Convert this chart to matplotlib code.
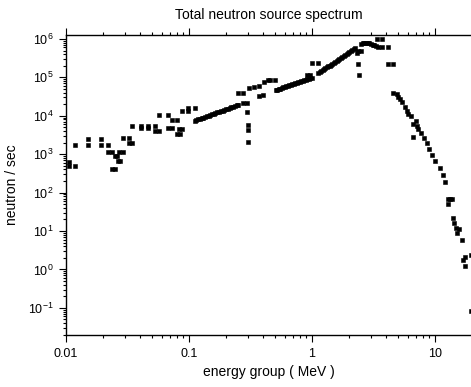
import numpy as np
import matplotlib
matplotlib.use("Agg")
import matplotlib.pyplot as plt
from matplotlib.ticker import LogLocator, FixedLocator, FixedFormatter, NullFormatter

plt.rcParams['font.family'] = ['Liberation Sans', 'DejaVu Sans']
plt.rcParams['mathtext.default'] = 'regular'
plt.rcParams['axes.unicode_minus'] = False

# --- values (energy in MeV, neutrons / sec) ---
# low-energy groups, scattered
e_low = [0.0106, 0.0106, 0.0118, 0.0118, 0.0151, 0.0151, 0.0194, 0.0194, 0.0219, 0.0219,
         0.0237, 0.0249, 0.0261, 0.0265, 0.0275, 0.0237, 0.0249, 0.0271, 0.0289, 0.0289,
         0.0324, 0.0324, 0.0344, 0.0344, 0.0409, 0.0409, 0.0464, 0.0464, 0.0526, 0.0526,
         0.0574, 0.0574, 0.0675, 0.0675, 0.0728, 0.0728, 0.0799, 0.0799, 0.0849, 0.0833,
         0.0877, 0.0872, 0.0982, 0.0982, 0.112]
v_low = [627, 494, 494, 1690, 2420, 1690, 2420, 1690, 1690, 1160,
         1160, 877, 877, 666, 666, 413, 420, 1160, 1160, 2570,
         2570, 1950, 1950, 5500, 5500, 4800, 5500, 4800, 5500, 3910,
         3910, 10600, 10600, 4800, 4800, 7870, 7870, 3350, 3350, 4520,
         4520, 13250, 16400, 13500, 15500]

# first dense run, 0.11 - 0.25 MeV
e_run1 = [0.111, 0.115, 0.119, 0.123, 0.127, 0.131, 0.135, 0.140, 0.145, 0.149,
          0.154, 0.159, 0.164, 0.170, 0.176, 0.182, 0.188, 0.194, 0.200, 0.207,
          0.214, 0.221, 0.229, 0.236, 0.244, 0.252]
v_run1 = [7410, 7700, 8000, 8320, 8630, 8970, 9330, 9680, 10070, 10470,
          10870, 11300, 11720, 12190, 12680, 13150, 13680, 14220, 14760, 15350,
          15920, 16560, 17220, 17870, 18580, 19320]

# scattered groups between the runs
e_mid = [0.249, 0.276, 0.276, 0.294, 0.294, 0.300, 0.300, 0.300, 0.310, 0.338,
         0.373, 0.373, 0.402, 0.409, 0.442, 0.455, 0.500, 0.916, 0.963, 1.006, 1.125]
v_mid = [40300, 40300, 22150, 22150, 12180, 5730, 4330, 2110, 52400, 54500,
         58000, 33000, 34500, 77800, 84500, 86100, 86100, 116100, 116100, 234000, 234000]

# second dense run, 0.5 - 1 MeV
e_run2 = [0.509, 0.524, 0.538, 0.554, 0.569, 0.585, 0.602, 0.619, 0.636, 0.654,
          0.673, 0.692, 0.712, 0.732, 0.752, 0.774, 0.795, 0.818, 0.841, 0.865,
          0.889, 0.914, 0.940, 0.967, 0.995]
v_run2 = [46600, 48000, 49600, 51200, 52800, 54500, 56200, 58000, 59800, 61700,
          63700, 65700, 67800, 70000, 72200, 74500, 76800, 79300, 81800, 84400,
          87100, 89800, 92700, 95700, 98900]

# third dense run, 1.1 - 2.2 MeV
e_run3 = [1.125, 1.155, 1.186, 1.218, 1.250, 1.284, 1.318, 1.353, 1.390, 1.427,
          1.465, 1.504, 1.544, 1.586, 1.628, 1.672, 1.717, 1.762, 1.809, 1.858,
          1.907, 1.958, 2.011, 2.064, 2.119, 2.176, 2.235]
v_run3 = [133400, 140300, 147600, 155400, 163700, 172600, 182000, 192100, 202800, 214300,
          226500, 239600, 253600, 268600, 284500, 301600, 319900, 339500, 360600, 383000,
          407300, 433200, 461200, 491100, 523200, 558000, 594900]

# peak
e_peak = [2.309, 2.379, 2.488, 2.379, 2.41, 2.50, 2.58, 2.66, 2.74, 2.83,
          2.92, 3.01, 3.11, 3.21, 3.31, 3.42, 3.396, 3.73, 3.73, 4.125, 4.125, 4.58]
v_peak = [425500, 487600, 487600, 220300, 116100, 728000, 762000, 780000, 787000, 782000,
          765000, 742000, 712000, 680000, 655000, 628000, 1020000, 1020000, 631000, 631000,
          228000, 228000]

# high-energy tail
e_tail = [4.58, 4.88, 5.03, 5.19, 5.42, 5.70, 5.89, 6.07, 6.34, 6.66,
          6.97, 7.10, 7.31, 7.69, 8.19, 8.56, 8.93, 9.50, 10.0, 6.66,
          10.98, 11.55, 12.05, 12.82, 13.24, 13.66, 12.82, 13.93, 14.27, 14.82,
          15.76, 15.17, 16.48, 17.54, 17.0, 17.54, 19.5, 19.5]
v_tail = [38900, 36600, 31700, 27200, 23500, 17100, 12940, 11070, 10000, 6080,
          7110, 5500, 4520, 3470, 2640, 1910, 1365, 971, 678, 2850,
          438, 288, 185, 68.6, 68.6, 68.6, 50.8, 22.0, 16.3, 11.75,
          11.4, 8.97, 5.9, 2.08, 1.71, 1.20, 2.31, 0.081]

x_ticks = [0.01, 0.1, 1, 10]
x_ticklabels = ['0.01', '0.1', '1', '10']

energy = np.concatenate([e_low, e_run1, e_mid, e_run2, e_run3, e_peak, e_tail])
flux = np.concatenate([v_low, v_run1, v_mid, v_run2, v_run3, v_peak, v_tail])

fig = plt.figure(figsize=(4.71, 3.87), dpi=100)
ax = fig.add_axes([0.140, 0.134, 0.860, 0.775])

ax.plot(energy, flux, 's', color='black', ms=2.2, mew=0.4, linestyle='none')

ax.set_xscale('log')
ax.set_yscale('log')
ax.set_xlim(0.01, 19.6)
ax.set_ylim(0.0195, 1.25e6)

ax.xaxis.set_major_locator(FixedLocator(x_ticks))
ax.xaxis.set_major_formatter(FixedFormatter(x_ticklabels))
ax.xaxis.set_minor_locator(LogLocator(base=10, subs=np.arange(2, 10), numticks=20))
ax.xaxis.set_minor_formatter(NullFormatter())
ax.yaxis.set_major_locator(LogLocator(base=10, numticks=20))
ax.yaxis.set_minor_locator(LogLocator(base=10, subs=np.arange(2, 10), numticks=20))
ax.yaxis.set_minor_formatter(NullFormatter())

ax.tick_params(which='both', direction='out', top=True, right=False, width=0.8,
               labelsize=9)
ax.tick_params(which='major', length=5, pad=4)
ax.tick_params(which='minor', length=2.5)
ax.spines['right'].set_visible(False)
for s in ['left', 'bottom', 'top']:
    ax.spines[s].set_linewidth(1.0)

ax.set_title('Total neutron source spectrum', fontsize=10, pad=12)
ax.set_xlabel('energy group ( MeV )', fontsize=10, labelpad=4)
ax.set_ylabel('neutron / sec', fontsize=10, labelpad=6)

fig.savefig('out.png', dpi=100)
